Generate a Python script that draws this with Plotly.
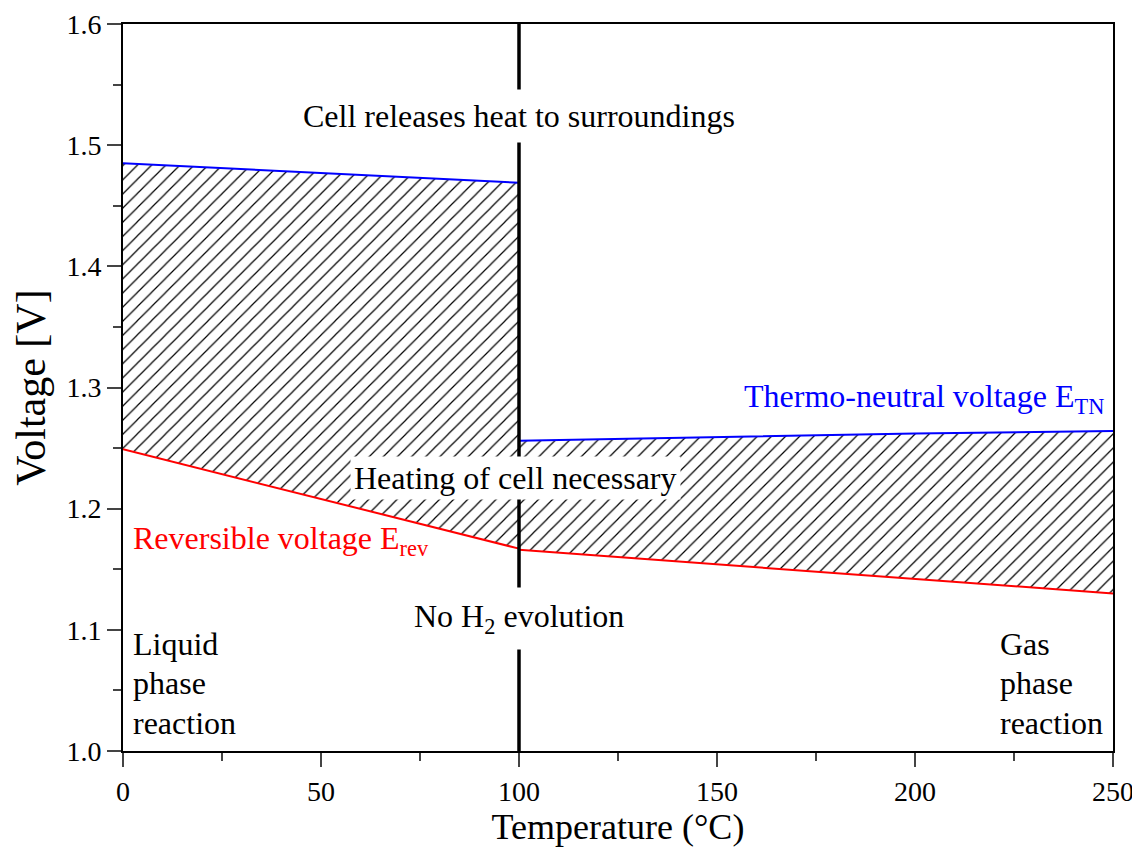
import plotly.graph_objects as go

# Data
temp_liquid = [0, 50, 100]
e_rev_liquid = [1.249, 1.208, 1.167]
e_tn_liquid = [1.485, 1.477, 1.469]

temp_gas = [100, 150, 200, 250]
e_rev_gas = [1.166, 1.154, 1.142, 1.130]
e_tn_gas = [1.256, 1.259, 1.262, 1.264]

x_ticks = [0, 50, 100, 150, 200, 250]
y_ticks = [1.0, 1.1, 1.2, 1.3, 1.4, 1.5, 1.6]

FONT = "Liberation Serif"
hatch = dict(shape="/", fgcolor="black", bgcolor="white", size=10, solidity=0.12, fillmode="replace")

fig = go.Figure()

# Liquid region
fig.add_trace(go.Scatter(x=temp_liquid, y=e_rev_liquid, mode="lines",
                         line=dict(color="red", width=2), showlegend=False, hoverinfo="skip"))
fig.add_trace(go.Scatter(x=temp_liquid, y=e_tn_liquid, mode="lines",
                         line=dict(color="blue", width=2), fill="tonexty",
                         fillcolor="white", fillpattern=hatch, showlegend=False, hoverinfo="skip"))
# Gas region
fig.add_trace(go.Scatter(x=temp_gas, y=e_rev_gas, mode="lines",
                         line=dict(color="red", width=2), showlegend=False, hoverinfo="skip"))
fig.add_trace(go.Scatter(x=temp_gas, y=e_tn_gas, mode="lines",
                         line=dict(color="blue", width=2), fill="tonexty",
                         fillcolor="white", fillpattern=hatch, showlegend=False, hoverinfo="skip"))

# Vertical boiling line at 100 °C
fig.add_trace(go.Scatter(x=[100, 100], y=[1.0, 1.6], mode="lines",
                         line=dict(color="black", width=3.5), showlegend=False, hoverinfo="skip"))

def ann(text, x, y, size=32, color="black", xanchor="center", yanchor="middle", bg=None, pad=0):
    fig.add_annotation(text=text, x=x, y=y, xref="x", yref="y", showarrow=False,
                       xanchor=xanchor, yanchor=yanchor, align="left",
                       font=dict(family=FONT, size=size, color=color),
                       bgcolor=bg, borderpad=pad)

ann("Cell releases heat to surroundings", 100, 1.524, bg="white", pad=8)
ann("Heating of cell necessary", 99, 1.2253, bg="white", pad=3)
ann("No H<sub>2</sub> evolution", 100, 1.109, bg="white", pad=10)
ann("Thermo-neutral voltage E<sub>TN</sub>", 248, 1.291, color="blue", xanchor="right")
ann("Reversible voltage E<sub>rev</sub>", 2.2, 1.174, color="red", xanchor="left")

for i, w in enumerate(["Liquid", "phase", "reaction"]):
    ann(w, 2.2, 1.0885 - i * 0.0325, xanchor="left")
for i, w in enumerate(["Gas", "phase", "reaction"]):
    ann(w, 221.3, 1.0885 - i * 0.0325, xanchor="left")

tickfont = dict(family=FONT, size=28, color="black")

# The page body adds an 8px offset, so the figure is sized to fit the window.
fig.update_layout(
    width=1132, height=842,
    margin=dict(l=115, r=27, t=16, b=99),
    plot_bgcolor="white", paper_bgcolor="white",
    font=dict(family=FONT, color="black", size=28),
    xaxis=dict(range=[0, 250], tickvals=x_ticks, ticks="outside", ticklen=14, tickwidth=2,
               showline=True, linecolor="black", linewidth=2, mirror=True, showgrid=False,
               zeroline=False, tickfont=tickfont, automargin=False,
               minor=dict(ticks="outside", ticklen=8, tickwidth=2, dtick=25, showgrid=False),
               title=dict(text="Temperature (°C)", font=dict(family=FONT, size=36, color="black"),
                          standoff=4)),
    yaxis=dict(range=[1.0, 1.6], tickvals=y_ticks, tickformat=".1f", ticks="outside",
               ticklen=14, tickwidth=2, showline=True, linecolor="black", linewidth=2,
               mirror=True, showgrid=False, zeroline=False, tickfont=tickfont, automargin=False,
               minor=dict(ticks="outside", ticklen=8, tickwidth=2, dtick=0.05, showgrid=False),
               title=dict(text="Voltage [V]", font=dict(family=FONT, size=42, color="black"),
                          standoff=12)),
)

fig.write_html("out.html")
